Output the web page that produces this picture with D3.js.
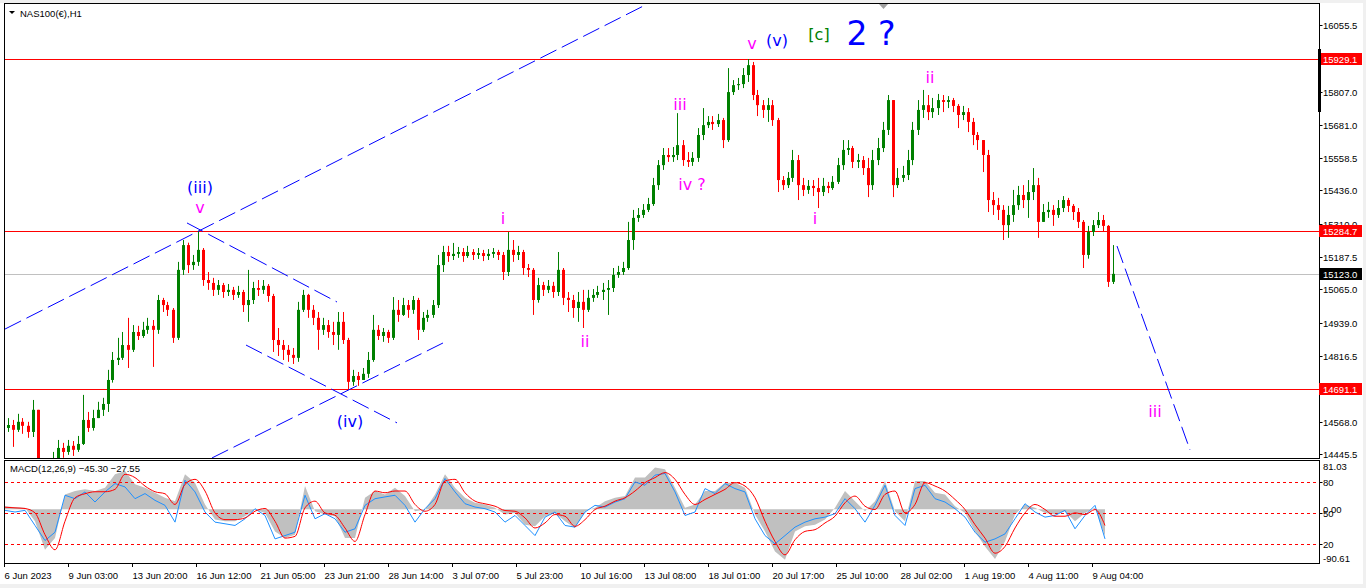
<!DOCTYPE html>
<html>
<head>
<meta charset="UTF-8">
<title>NAS100(€),H1</title>
<script src="https://d3js.org/d3.v7.min.js"></script>
<style>
  body { margin: 0; background: #fff; }
  svg text { font-family: "Liberation Sans", Arial, sans-serif; }
  .wave { font-family: "DejaVu Sans", Verdana, sans-serif; }
</style>
</head>
<body>
<svg id="chart" width="1366" height="588"></svg>
<script>
// price bars, one every 5 hours (open = previous close)
const barHours = 5;
const firstOpen = 14545;
const closes = [
  14556,14538,14568,14553,14530,14613,14418,14388,14403,14425,
  14470,14455,14478,14463,14485,14575,14545,14582,14613,14635,
  14725,14800,14808,14856,14838,14905,14890,14913,14928,14913,
  15025,15006,14988,14883,15138,15231,15156,15168,15213,15100,
  15089,15063,15081,15055,15063,15044,15055,15006,15025,15070,
  15063,15078,15040,14875,14856,14838,14819,14808,14988,15044,
  14988,14958,14913,14931,14905,14894,14943,14875,14718,14740,
  14725,14748,14800,14913,14890,14905,14883,14988,14969,15006,
  14988,15025,14913,14958,14969,15006,15156,15205,15190,15198,
  15205,15190,15205,15194,15201,15190,15198,15205,15194,15130,
  15213,15194,15205,15145,15138,15025,15081,15063,15078,15055,
  15138,15033,15025,14995,15018,14988,15033,15044,15055,15063,
  15070,15119,15130,15145,15250,15333,15344,15363,15385,15456,
  15531,15569,15561,15569,15606,15550,15543,15558,15644,15681,
  15693,15685,15700,15625,15805,15831,15835,15869,15906,15794,
  15756,15738,15756,15700,15475,15456,15483,15550,15456,15438,
  15453,15445,15430,15453,15445,15468,15531,15588,15595,15543,
  15550,15520,15456,15550,15595,15663,15775,15456,15483,15494,
  15550,15663,15738,15756,15730,15745,15775,15768,15775,15753,
  15719,15730,15693,15644,15625,15569,15400,15381,15363,15306,
  15344,15381,15419,15400,15430,15456,15318,15355,15363,15344,
  15370,15400,15378,15355,15318,15194,15280,15306,15325,15303,
  15093,15123
];
const highs = [
  14582,14575,14598,14582,14568,14650,14613,14418,14418,14455,
  14500,14489,14500,14496,14515,14669,14605,14613,14643,14658,
  14763,14830,14883,14905,14958,14931,14928,14943,14958,14950,
  15044,15033,15018,14995,15168,15250,15240,15194,15285,15220,
  15130,15108,15100,15089,15085,15074,15078,15063,15138,15093,
  15100,15100,15085,15048,14920,14875,14856,14845,15018,15063,
  15048,15006,14980,14958,14950,14943,14980,14980,14883,14763,
  14755,14770,14830,14969,14931,14920,14913,15036,15025,15033,
  15025,15040,15033,14980,14988,15025,15194,15228,15228,15239,
  15224,15220,15228,15216,15220,15213,15216,15220,15213,15205,
  15280,15250,15228,15213,15160,15145,15108,15093,15100,15093,
  15205,15145,15055,15044,15055,15063,15063,15066,15078,15089,
  15100,15145,15153,15168,15318,15363,15370,15385,15408,15483,
  15550,15595,15595,15599,15726,15625,15580,15580,15670,15745,
  15715,15715,15723,15708,15895,15850,15858,15895,15929,15918,
  15813,15775,15783,15775,15708,15490,15505,15588,15569,15483,
  15475,15475,15483,15483,15468,15490,15558,15625,15625,15603,
  15573,15565,15558,15588,15633,15693,15794,15775,15520,15528,
  15588,15693,15775,15813,15794,15783,15798,15794,15790,15783,
  15760,15753,15745,15708,15655,15625,15588,15430,15408,15381,
  15378,15438,15453,15456,15475,15520,15483,15385,15393,15381,
  15400,15415,15408,15385,15370,15325,15303,15325,15355,15344,
  15306,15231
];
const lows = [
  14530,14474,14530,14523,14508,14511,14388,14358,14373,14395,
  14418,14433,14444,14440,14455,14481,14530,14535,14582,14590,
  14605,14715,14781,14800,14770,14830,14875,14883,14898,14774,
  14898,14980,14965,14864,14875,15119,15126,15138,15153,15078,
  15063,15040,15044,15033,15040,15025,15033,14980,14943,15010,
  15040,15048,15018,14830,14815,14800,14793,14785,14793,14980,
  14958,14931,14838,14894,14883,14856,14838,14860,14691,14703,
  14703,14725,14733,14793,14875,14868,14864,14875,14943,14965,
  14958,14973,14875,14905,14943,14958,14995,15130,15168,15175,
  15183,15168,15183,15175,15179,15171,15175,15183,15175,15100,
  15115,15168,15175,15119,15111,14969,15015,15040,15051,15033,
  15040,15006,14980,14958,14943,14920,14980,15018,15033,15025,
  14969,15055,15108,15119,15138,15213,15318,15333,15355,15378,
  15438,15513,15543,15543,15550,15528,15524,15528,15543,15625,
  15670,15663,15674,15595,15618,15794,15813,15820,15843,15775,
  15715,15708,15693,15678,15430,15438,15445,15468,15400,15415,
  15423,15415,15370,15415,15426,15438,15460,15513,15569,15520,
  15520,15494,15411,15438,15531,15580,15644,15411,15445,15468,
  15475,15531,15644,15708,15700,15708,15719,15730,15745,15730,
  15670,15700,15655,15606,15588,15505,15355,15344,15325,15250,
  15258,15318,15363,15370,15333,15400,15258,15318,15333,15303,
  15333,15355,15355,15325,15295,15145,15180,15265,15295,15280,
  15074,15085
];

// MACD window, one sample every 10 hours
const macdStep = 10;
const macdMain = [
  5.0,3.3,2.2,-20.4,-68.4,-48.7,24.8,30.5,33.3,30.5,
  36.1,58.7,64.4,41.8,36.1,27.6,19.2,13.5,58.7,44.6,
  7.9,-17.6,-20.4,-20.4,-11.9,-0.6,-6.3,-37.4,-48.7,-43.0,
  38.9,-3.5,-9.1,-11.9,-48.7,-48.7,19.2,30.5,24.8,36.1,
  22.0,-3.5,-0.6,24.8,58.7,36.1,19.2,10.7,7.9,2.2,
  -9.1,-6.3,-26.1,-28.9,-11.9,-6.3,-20.4,-31.7,-3.5,2.2,
  13.5,19.2,22.0,53.1,53.1,70.0,67.2,36.1,2.2,7.9,
  30.5,30.5,44.6,44.6,36.1,-9.1,-37.4,-71.3,-85.0,-37.4,
  -28.9,-26.1,-17.6,2.2,30.5,13.5,-3.5,13.5,47.4,-3.5,
  -20.4,47.4,47.4,27.6,24.8,5.0,-6.3,-37.4,-62.8,-84.0,
  -54.3,-9.1,7.9,2.2,-6.3,-9.1,-3.5,-20.4,-6.3,2.2,
  -45.30
];
const macdSignal = [
  3.3,2.2,1.1,-6.3,-43.0,-68.4,-20.4,19.2,25.9,29.3,
  29.3,33.3,58.7,53.1,38.9,29.3,25.9,7.9,41.8,50.2,
  30.5,-6.3,-17.6,-17.6,-14.8,-3.5,1.1,-20.4,-48.7,-45.8,
  2.2,13.5,-6.3,-10.2,-31.7,-54.3,-9.1,30.5,27.6,30.5,
  30.5,7.9,-3.5,7.9,47.4,50.2,27.6,13.5,9.0,5.0,
  -2.3,-3.5,-14.8,-31.7,-23.2,-9.1,-11.9,-28.9,-17.6,-0.6,
  5.0,13.5,19.2,30.5,44.6,53.1,61.5,50.2,24.8,7.9,
  16.3,24.8,33.3,44.6,38.9,19.2,-20.4,-54.3,-76.9,-51.5,
  -37.4,-34.5,-23.2,-11.9,10.7,22.0,5.0,-0.6,24.8,30.5,
  -6.3,7.9,44.6,38.9,30.5,16.3,-0.6,-26.1,-48.7,-74.1,
  -62.8,-31.7,-6.3,7.9,-0.6,-11.9,-11.9,-6.3,-9.1,-0.6,
  -27.55
];
// oscillator drawn on the 0..100 levels (80 / 50 / 20)
const oscLine = [
  52.3,50.7,52.3,37.8,23.3,31.3,66.8,63.5,70.0,60.3,
  70.0,78.0,74.8,63.5,68.4,61.9,57.1,41.0,81.2,70.0,
  50.7,41.0,39.4,37.8,44.2,53.9,47.4,24.9,28.1,31.3,
  66.8,44.2,49.1,44.2,31.3,34.6,57.1,63.5,65.2,66.8,
  57.1,41.0,53.9,63.5,82.9,70.0,58.7,55.5,53.9,50.7,
  41.0,47.4,37.8,28.1,45.8,50.7,37.8,36.2,50.7,57.1,
  55.5,60.3,63.5,79.6,76.4,86.1,87.7,70.0,47.4,50.7,
  73.2,68.4,78.0,73.2,70.0,44.2,28.1,20.1,28.1,36.2,
  41.0,44.2,45.8,49.1,63.5,53.9,41.0,57.1,76.4,47.4,
  37.8,73.2,76.4,63.5,60.3,53.9,45.8,31.3,21.7,24.9,
  29.7,44.2,58.7,50.7,45.8,47.4,52.3,34.6,47.4,57.1,
  24.9
];
const oscLevels = [80, 50, 20];

const priceTicks = ["16055.5","15807.0","15681.0","15558.5","15436.0","15310.0",
                    "15187.5","15065.0","14939.0","14816.5","14568.0","14445.5"];
const redLevels = [15929.1, 15284.7, 14691.1];
const bidPrice = 15123.0;
const macdAxis = ["81.03", "0.00", "-90.61"];

const timeLabels = ["6 Jun 2023","9 Jun 03:00","13 Jun 20:00","16 Jun 12:00","21 Jun 05:00",
  "23 Jun 21:00","28 Jun 14:00","3 Jul 07:00","5 Jul 23:00","10 Jul 16:00","13 Jul 08:00",
  "18 Jul 01:00","20 Jul 17:00","25 Jul 10:00","28 Jul 02:00","1 Aug 19:00","4 Aug 11:00","9 Aug 04:00"];
const timeHours = [0,64,128,192,256,320,384,448,512,576,640,704,768,832,896,960,1024,1088];

// dashed trend lines [hour1, price1, hour2, price2]
const trendLines = [
  [0, 14916, 640, 16131],
  [207, 14432.5, 440, 14867.5],
  [182, 15314, 332, 15017.5],
  [241, 14856, 392, 14564],
  [1112, 15227.5, 1185, 14462.5]
];

const waveText  = ["(iii)","v","(iv)","i","ii","iii","iv ?","v","(v)","[c]","2 ?","i","ii","iii"];
const waveHour  = [195, 195, 345, 498, 580, 675, 687, 747, 772, 814, 866, 810, 925, 1150];
const wavePrice = [15449, 15372, 14571, 15332, 14869, 15760, 15460, 15989, 16000, 16022, 16028, 15333, 15861, 14609];
const waveKind  = ["major","minor","major","minor","minor","minor","minor","minor","major","green","big","minor","minor","minor"];

// ---------- layout ----------
const W = 1366, H = 588;
const pL = 5, pR = 1319, pT = 4, pB = 458;
const mTop = 461, mBottom = 563;

const svg = d3.select("#chart");
svg.append("rect").attr("width", W).attr("height", H).attr("fill", "#f0f0f0");
svg.append("rect").attr("x", 0).attr("y", 3).attr("width", 1363).attr("height", 581).attr("fill", "#fff");

const defs = svg.append("defs");
defs.append("clipPath").attr("id", "clipMain").append("rect")
    .attr("x", pL).attr("y", pT).attr("width", pR - pL).attr("height", pB - pT);
defs.append("clipPath").attr("id", "clipMacd").append("rect")
    .attr("x", pL).attr("y", mTop - 1).attr("width", pR - pL).attr("height", mBottom - mTop + 1);

const x = d3.scaleLinear().domain([0, pR - pL]).range([pL, pR]);
const y = d3.scaleLinear().domain([14432.25, 16135.43]).range([pB, pT]);
const yM = d3.scaleLinear().domain([-90.61, 81.03]).range([mBottom, mTop]);
const yO = d3.scaleLinear().domain([20, 80]).range([544, 481.5]);

// ---------- main window ----------
const gMain = svg.append("g").attr("clip-path", "url(#clipMain)");

gMain.selectAll(".lvl").data(redLevels).enter().append("line")
    .attr("x1", pL).attr("x2", pR)
    .attr("y1", d => Math.round(y(d)) + 0.5).attr("y2", d => Math.round(y(d)) + 0.5)
    .attr("stroke", "#ff0000");
gMain.append("line")
    .attr("x1", pL).attr("x2", pR)
    .attr("y1", Math.round(y(bidPrice)) + 0.5).attr("y2", Math.round(y(bidPrice)) + 0.5)
    .attr("stroke", "#c0c0c0");

const bars = closes.map((c, i) => ({
  o: i ? closes[i - 1] : firstOpen, c: c, h: highs[i], l: lows[i],
  t: i * barHours + barHours / 2
}));
const bull = "#008000", bear = "#ff0000";

const candle = gMain.selectAll(".bar").data(bars).enter().append("g");
candle.append("line")
    .attr("x1", d => Math.round(x(d.t)) + 0.5).attr("x2", d => Math.round(x(d.t)) + 0.5)
    .attr("y1", d => y(Math.max(d.h, d.o, d.c))).attr("y2", d => y(Math.min(d.l, d.o, d.c)))
    .attr("stroke", d => d.c >= d.o ? bull : bear);
candle.append("rect")
    .attr("x", d => Math.round(x(d.t)) - 1).attr("width", 3)
    .attr("y", d => y(Math.max(d.o, d.c)))
    .attr("height", d => Math.max(1, y(Math.min(d.o, d.c)) - y(Math.max(d.o, d.c))))
    .attr("fill", d => d.c >= d.o ? bull : bear);

gMain.selectAll(".trend").data(trendLines).enter().append("line")
    .attr("x1", d => x(d[0])).attr("y1", d => y(d[1]))
    .attr("x2", d => x(d[2])).attr("y2", d => y(d[3]))
    .attr("stroke", "#0000ff").attr("stroke-width", 1).attr("stroke-dasharray", "18,6");

const waveStyle = {
  major: { color: "#0000ff", size: 16 },
  minor: { color: "#ff00ff", size: 16 },
  green: { color: "#008000", size: 16 },
  big:   { color: "#0000ff", size: 33 }
};
gMain.selectAll(".wave").data(waveText).enter().append("text")
    .attr("class", "wave")
    .attr("x", (d, i) => x(waveHour[i])).attr("y", (d, i) => y(wavePrice[i]))
    .attr("dy", "0.36em").attr("text-anchor", "middle")
    .attr("font-size", (d, i) => waveStyle[waveKind[i]].size)
    .attr("fill", (d, i) => waveStyle[waveKind[i]].color)
    .text(d => d);

// title
svg.append("path").attr("d", "M9,11 L15,11 L12,14 Z").attr("fill", "#000");
svg.append("text").attr("x", 20).attr("y", 16.5).attr("font-size", 9.5).attr("fill", "#000")
    .text("NAS100(€),H1");
svg.append("path").attr("d", "M879,4 L888,4 L883.5,9 Z").attr("fill", "#a0a0a0");

// ---------- MACD window ----------
const gM = svg.append("g").attr("clip-path", "url(#clipMacd)");
gM.append("path").datum(macdMain)
    .attr("d", d3.area().x((d, i) => x(i * macdStep)).y0(yM(0)).y1(d => yM(d)))
    .attr("fill", "#c0c0c0");
gM.selectAll(".olvl").data(oscLevels).enter().append("line")
    .attr("x1", pL).attr("x2", pR)
    .attr("y1", d => Math.round(yO(d)) + 0.5).attr("y2", d => Math.round(yO(d)) + 0.5)
    .attr("stroke", "#ff0000").attr("stroke-dasharray", "3,3");
gM.append("path").datum(oscLine)
    .attr("d", d3.line().x((d, i) => x(i * macdStep)).y(d => yO(d)))
    .attr("fill", "none").attr("stroke", "#1e90ff").attr("stroke-width", 1);
gM.append("path").datum(macdSignal)
    .attr("d", d3.line().curve(d3.curveMonotoneX).x((d, i) => x(i * macdStep)).y(d => yM(d)))
    .attr("fill", "none").attr("stroke", "#ff0000").attr("stroke-width", 1);

svg.append("text").attr("x", 10).attr("y", 472).attr("font-size", 9.5).attr("fill", "#000")
    .text("MACD(12,26,9) " + d3.format(".2f")(macdMain[macdMain.length - 1]) + " " +
          d3.format(".2f")(macdSignal[macdSignal.length - 1]));

// frames
svg.append("rect").attr("x", pL - 0.5).attr("y", pT - 0.5)
    .attr("width", pR - pL + 1).attr("height", pB - pT + 1)
    .attr("fill", "none").attr("stroke", "#000");
svg.append("rect").attr("x", pL - 0.5).attr("y", mTop - 0.5)
    .attr("width", pR - pL + 1).attr("height", mBottom - mTop + 1)
    .attr("fill", "none").attr("stroke", "#000");

// ---------- price axis ----------
const axisX = pR + 0.5;
priceTicks.forEach(t => {
  const py = Math.round(y(+t)) + 0.5;
  svg.append("line").attr("x1", axisX).attr("x2", axisX + 3).attr("y1", py).attr("y2", py).attr("stroke", "#000");
  svg.append("text").attr("x", pR + 4).attr("y", py + 3.5).attr("font-size", 9.5).attr("fill", "#000").text(t);
});
function priceBox(p, fill) {
  const py = Math.round(y(p));
  svg.append("rect").attr("x", pR).attr("y", py - 6).attr("width", 43).attr("height", 12).attr("fill", fill);
  svg.append("text").attr("x", pR + 4).attr("y", py + 3.5).attr("font-size", 9.5).attr("fill", "#fff")
      .text(d3.format(".1f")(p));
}
redLevels.forEach(p => priceBox(p, "#ff0000"));
priceBox(bidPrice, "#000");
svg.append("rect").attr("x", pR - 1).attr("y", 49).attr("width", 3).attr("height", 63).attr("fill", "#000");

// ---------- MACD axis ----------
svg.append("text").attr("x", pR + 4).attr("y", yM(+macdAxis[0]) + 8.5).attr("font-size", 9.5).text(macdAxis[0]);
svg.append("text").attr("x", pR + 4).attr("y", yM(+macdAxis[1]) + 3.5).attr("font-size", 9.5).text(macdAxis[1]);
svg.append("text").attr("x", pR + 4).attr("y", yM(+macdAxis[2]) - 1).attr("font-size", 9.5).text(macdAxis[2]);
oscLevels.forEach(v => {
  const py = Math.round(yO(v)) + 0.5;
  svg.append("line").attr("x1", axisX).attr("x2", axisX + 3).attr("y1", py).attr("y2", py).attr("stroke", "#000");
  svg.append("text").attr("x", pR + 4).attr("y", py + 3.5).attr("font-size", 9.5).text(v);
});

// ---------- time axis ----------
timeLabels.forEach((lab, i) => {
  const tx = Math.round(x(timeHours[i])) - 0.5;
  svg.append("line").attr("x1", tx).attr("x2", tx).attr("y1", mBottom + 1).attr("y2", mBottom + 4).attr("stroke", "#000");
  svg.append("text").attr("x", tx).attr("y", 578.5).attr("font-size", 9.5).attr("fill", "#000").text(lab);
});
</script>
</body>
</html>
